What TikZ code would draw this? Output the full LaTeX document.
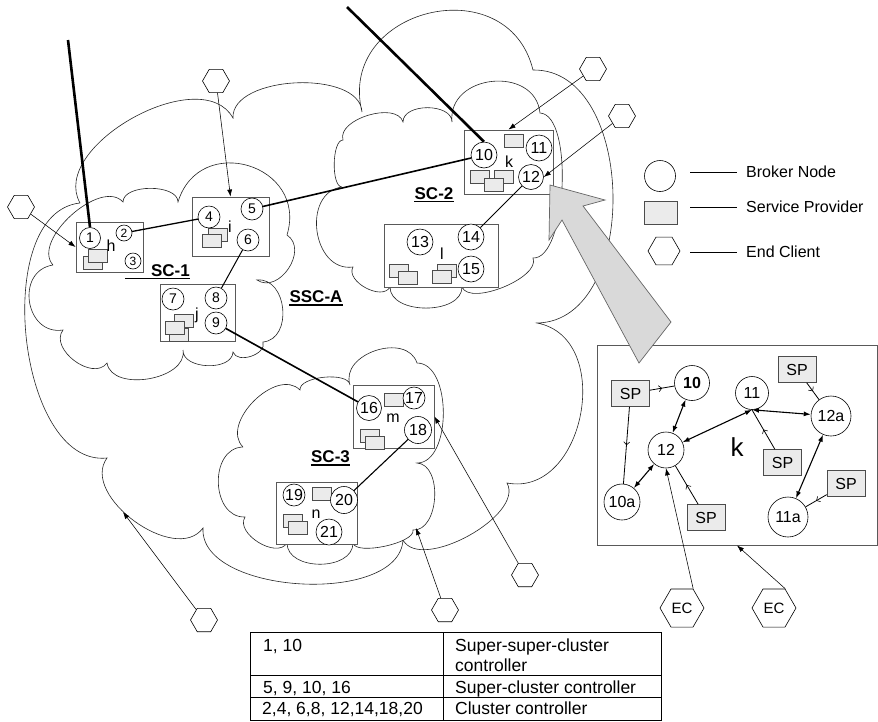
\documentclass[tikz,border=0pt]{standalone}
\usepackage{fontspec}
\setmainfont{Liberation Sans}
\usetikzlibrary{arrows.meta, calc, shapes.geometric, decorations.markings}

\newcommand\fsz[1]{\fontsize{#1}{#1}\selectfont}

\tikzset{
  puff/.style={bend left=90, looseness=#1},
  cloudline/.style={draw=black!85, line width=0.6pt, fill=white},
  grp/.style={draw=black!65, line width=0.9pt, fill=white, inner sep=0pt},
  bn/.style={circle, draw, line width=0.6pt, fill=white, inner sep=0pt, minimum size=#1},
  bn/.default=24pt,
  prov/.style={draw=black!70, fill=black!8, line width=0.6pt, minimum width=19pt, minimum height=13pt, inner sep=0pt},
  bigprov/.style={prov, minimum width=38pt, minimum height=26pt, font=\fsz{16}},
  hexa/.style={regular polygon, regular polygon sides=6, draw, fill=white, line width=0.6pt, inner sep=0pt, minimum size=#1},
  hexa/.default=27pt,
  poke/.style={-{Latex[length=7pt, width=5pt]}, line width=0.55pt},
  trunk/.style={line width=2.6pt},
  feed/.style={line width=0.8pt, postaction={decorate},
    decoration={markings, mark=at position 0.5 with {\arrow{Straight Barb[length=3pt, width=6pt, line width=0.6pt]}}}},
  dbl/.style={line width=1.1pt, {Latex[length=7pt, width=5pt]}-{Latex[length=7pt, width=5pt]}},
  sclab/.style={font=\fsz{17}\bfseries, inner sep=0pt, anchor=base},
  tabtxt/.style={font=\fsz{17.5}, inner sep=0pt, anchor=base west},
  lgtxt/.style={font=\fsz{16}, inner sep=0pt, anchor=west}
}

\begin{document}
\begin{tikzpicture}[x=1pt, y=-1pt]
\useasboundingbox (0,0) rectangle (878,721);

% clouds
\draw[cloudline] (80,203) to[puff=.95] (233,118) to[puff=.85] (362,112) to[puff=1.55] (533,70)
  to[puff=1.05] (537,323) to[puff=1.25] (507,483) to[puff=.8] (403,540) to[puff=.85] (203,528)
  to[puff=1.0] (107,458) to[puff=.9] (80,203);
\draw[cloudline] (53,265) to[puff=.9] (123,202) to[puff=.85] (178,202) to[puff=1.65] (287,235)
  to[puff=1.25] (257,280) to[puff=1.25] (263,342) to[puff=1.05] (233,352) to[puff=1.0] (183,350)
  to[puff=1.0] (107,363) to[puff=1.1] (63,330) to[puff=1.5] (53,265);
\draw[cloudline] (342,187) to[puff=.6] (343,140) to[puff=.9] (403,122) to[puff=1.0] (452,122)
  to[puff=1.4] (540,113) to[puff=.6] (533,258) to[puff=.7] (462,287) to[puff=1.0] (390,287)
  to[puff=1.0] (353,267) to[puff=1.3] (342,187);
\draw[cloudline] (243,447) to[puff=1.05] (300,390) to[puff=.7] (350,385) to[puff=1.2] (417,363)
  to[puff=.9] (417,463) to[puff=1.0] (413,530) to[puff=.55] (353,543) to[puff=1.1] (287,543)
  to[puff=1.0] (245,517) to[puff=1.25] (243,447);
\coordinate (ssc-edge) at (123,512);
\coordinate (sc3-edge) at (416,528);

% cluster boxes
\node[grp, minimum width=67pt, minimum height=50pt] (hbox) at (109.5,247) {};
\node[grp, minimum width=77pt, minimum height=59pt] (ibox) at (230.5,226.5) {};
\node[grp, minimum width=75pt, minimum height=57pt] (jbox) at (197.5,312.5) {};
\node[grp, minimum width=89pt, minimum height=64pt] (kbox) at (508.5,162) {};
\node[grp, minimum width=114pt, minimum height=63pt] (lbox) at (441,255.5) {};
\node[grp, minimum width=81pt, minimum height=63pt] (mbox) at (393.5,416.5) {};
\node[grp, minimum width=81pt, minimum height=62pt] (nbox) at (316.5,513) {};

% service providers
\foreach \p in {(92.5,262.5),(97.5,255.5),(217.5,235),(212,241),(183.5,321),(179,334.5),(174.5,328),
  (513.5,141),(479.5,177),(503.5,176.5),(493.5,184.5),(398.5,270.5),(407.5,278),(446.5,270.5),(441.5,277),
  (393.5,399.5),(369.5,435.5),(374.5,442.5),(321.5,493.5),(293,520.5),(298,528)}
  \node[prov] at \p {};

% broker nodes
\node[bn=21pt, font=\fsz{14}] (c1) at (90,238) {1};
\node[bn=16pt, font=\fsz{12}] (c2) at (124,233) {2};
\node[bn=16pt, font=\fsz{12}] (c3) at (133,261) {3};
\node[bn=22pt, font=\fsz{14}] (c4) at (209,217) {4};
\node[bn=22pt, font=\fsz{14}] (c5) at (252,209) {5};
\node[bn=22pt, font=\fsz{14}] (c6) at (248,240) {6};
\node[bn=22pt, font=\fsz{14}] (c7) at (173,299) {7};
\node[bn=22pt, font=\fsz{14}] (c8) at (216,298) {8};
\node[bn=22pt, font=\fsz{14}] (c9) at (216,323) {9};
\node[bn=26pt, font=\fsz{16}] (c10) at (484,155) {10};
\node[bn=26pt, font=\fsz{16}] (c11) at (539,148) {11};
\node[bn=25pt, font=\fsz{16}] (c12) at (531,177) {12};
\node[bn=26pt, font=\fsz{16}] (c13) at (420,242) {13};
\node[bn=26pt, font=\fsz{16}] (c14) at (471,237) {14};
\node[bn=26pt, font=\fsz{16}] (c15) at (471,269) {15};
\node[bn=25pt, font=\fsz{16}] (c16) at (369,408) {16};
\node[bn=22pt, font=\fsz{16}] (c17) at (414,398) {17};
\node[bn=27pt, font=\fsz{16}] (c18) at (418,430) {18};
\node[bn=22pt, font=\fsz{16}] (c19) at (294,495) {19};
\node[bn=27pt, font=\fsz{16}] (c20) at (344,500) {20};
\node[bn=26pt, font=\fsz{16}] (c21) at (329,532) {21};

% links between clusters
\coordinate (up1) at (68,40);
\coordinate (up2) at (347,7);
\draw[trunk] (up1) -- (c1.north);
\draw[trunk] (up2) -- (c10.north);
\draw[line width=1.3pt] (c2) -- (c4);
\draw[line width=1.6pt] (c5) -- (c10);
\draw[line width=1pt] (c6) -- (c8);
\draw[line width=1.6pt] (c9) -- (c16);
\draw[line width=1pt] (c12) -- (c14);
\draw[line width=1.1pt] (c18) -- (c20);

% cluster letters
\foreach \t/\x/\y in {h/111/246, i/230/227, j/197/315, k/509/162, l/442/254, m/393/418, n/316/514}
  \node[font=\fsz{16}, inner sep=0pt] at (\x,\y) {\t};

% cluster names
\node[sclab] (sc1) at (170.5,276) {SC-1};
\node[sclab] (sc2) at (434,199) {SC-2};
\node[sclab] (ssca) at (316,302.5) {SSC-A};
\node[sclab] (sc3) at (330.5,462.5) {SC-3};
\draw[line width=1.3pt] ([xshift=-26pt, yshift=-2.5pt]sc1.base west) -- ([yshift=-2.5pt]sc1.base east);
\foreach \n in {sc2, ssca, sc3}
  \draw[line width=1.3pt] ([yshift=-2.5pt]\n.base west) -- ([yshift=-2.5pt]\n.base east);

% end clients
\node[hexa] (e1) at (21,207) {};
\node[hexa] (e2) at (216,81) {};
\node[hexa] (e3) at (593,69) {};
\node[hexa] (e4) at (622,116) {};
\node[hexa] (e5) at (204,620) {};
\node[hexa] (e6) at (525,575) {};
\node[hexa] (e7) at (445,610) {};
\draw[poke] (e1) -- (hbox.west);
\draw[poke] (e2) -- (ibox.north);
\draw[poke] (e3) -- (kbox.north);
\draw[poke] (e4) -- (c12.east);
\draw[poke] (e5) -- (ssc-edge);
\draw[poke] (e6) -- (mbox.east);
\draw[poke] (e7) -- (sc3-edge);

% legend
\node[bn=31pt] (lgB) at (660,176) {};
\node[prov, minimum width=33pt, minimum height=23pt] (lgS) at (660.5,212.5) {};
\node[hexa=32pt] (lgE) at (664,251) {};
\node[lgtxt] (lgBt) at (746,172) {Broker Node};
\node[lgtxt] (lgSt) at (746,207) {Service Provider};
\node[lgtxt] (lgEt) at (746,252) {End Client};
\foreach \n in {lgBt, lgSt, lgEt}
  \draw[line width=0.7pt] ($(\n.west)+(-56,0)$) -- ($(\n.west)+(-9,0)$);

% zoomed cluster k
\node[grp, fill=none, minimum width=280pt, minimum height=200pt] (xbox) at (737,445) {};
\node[bigprov] (xsp1) at (630.5,393.5) {SP};
\node[bigprov] (xsp2) at (797,369.5) {SP};
\node[bigprov] (xsp3) at (782.5,462.5) {SP};
\node[bigprov] (xsp4) at (846,483.5) {SP};
\node[bigprov] (xsp5) at (706,517.5) {SP};
\node[bn=35pt, font=\fsz{16}\bfseries] (x10) at (692,383) {10};
\node[bn=33pt, font=\fsz{16}] (x11) at (752,393) {11};
\node[bn=36pt, font=\fsz{16}] (x12) at (666,450) {12};
\node[bn=40pt, font=\fsz{16}] (x12a) at (831,416) {12a};
\node[bn=36pt, font=\fsz{16}] (x10a) at (622,502) {10a};
\node[bn=40pt, font=\fsz{16}] (x11a) at (788,517) {11a};
\node[font=\fsz{26}, inner sep=0pt] at (737,447) {k};
\draw[feed] (xsp1) -- (x10);
\draw[feed] (xsp1) -- (x10a);
\draw[dbl] (x10) -- (x12);
\draw[dbl] (x12) -- (x11.south);
\draw[dbl] (x11.south) -- (x12a);
\draw[feed] (xsp3) -- (x11.south);
\draw[feed] (xsp2) -- (x12a);
\draw[dbl] (x12a) -- (x11a);
\draw[feed] (xsp4) -- (x11a);
\draw[dbl] (x12) -- (x10a);
\draw[feed] (xsp5) -- (x12);

\node[hexa=44pt, font=\fsz{15}] (ec1) at (682,608) {EC};
\node[hexa=44pt, font=\fsz{15}] (ec2) at (774,608) {EC};
\draw[poke] (ec1.60) -- (x12.south);
\draw[poke] (ec2.60) -- (xbox.south);

% callout arrow
\draw[draw=black!60, fill=black!15, line width=0.7pt] (550,185) -- (549,240) -- (562,220) -- (639,363)
  -- (671,322) -- (583,206) -- (605,200) -- cycle;

% table
\draw[line width=0.9pt] (250,632) rectangle (661,720);
\draw[line width=0.9pt] (443,632) -- (443,720);
\draw[line width=0.9pt] (250,675) -- (661,675);
\draw[line width=0.9pt] (250,697) -- (661,697);
\node[tabtxt] (t1) at (263,651) {1, 10};
\node[tabtxt] (t2) at (263,693) {5, 9, 10, 16};
\node[tabtxt] (t3) at (262,714) {2,4, 6,8, 12,14,18,20};
\node[tabtxt] (r1) at (455,651) {Super-super-cluster};
\node[tabtxt] (r1b) at (455,671) {controller};
\node[tabtxt] (r2) at (455,693) {Super-cluster controller};
\node[tabtxt] (r3) at (455,714) {Cluster controller};
\end{tikzpicture}
\end{document}
